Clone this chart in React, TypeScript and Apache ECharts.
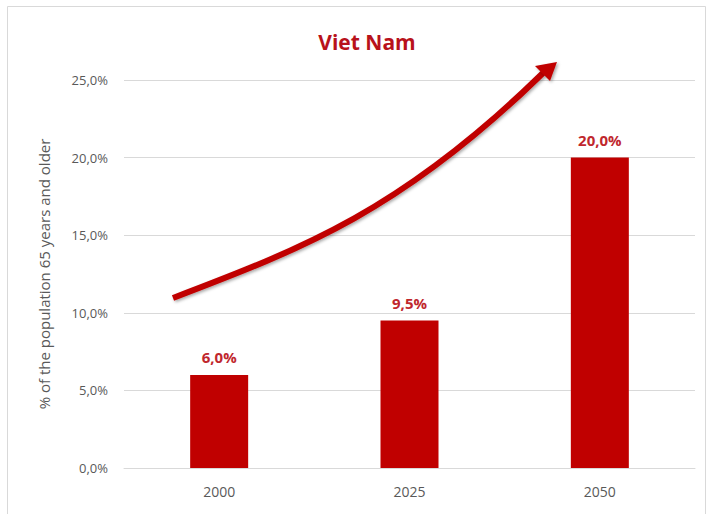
import React, { useEffect, useRef } from "react";
import * as echarts from "echarts";

const categories = ["2000", "2025", "2050"];
const shareOlder = [6.0, 9.5, 20.0];
const yTicks = { min: 0, max: 25, interval: 5 };
const titleText = "Viet Nam";
const yAxisName = "% of the population 65 years and older";

const fmt = (v: number) => v.toFixed(1).replace(".", ",") + "%";

export default function App() {
  const ref = useRef<HTMLDivElement>(null);
  useEffect(() => {
    document.body.style.margin = "0";
    const chart = echarts.init(ref.current!, null, { renderer: "svg" });
    const font = "'Open Sans', 'Noto Sans', sans-serif";
    chart.setOption({
      animation: false,
      backgroundColor: "#ffffff",
      title: {
        text: titleText,
        left: 362,
        textAlign: "center",
        top: 26,
        textStyle: { color: "#b8121b", fontSize: 21, fontWeight: "bold", fontFamily: font },
      },
      grid: { left: 124, right: 13, top: 80, bottom: 46 },
      xAxis: {
        type: "category",
        data: categories,
        axisTick: { show: false },
        axisLine: { lineStyle: { color: "#d9d9d9", width: 1 } },
        axisLabel: { color: "#595959", fontSize: 14, margin: 16, fontFamily: font },
      },
      yAxis: {
        type: "value",
        min: yTicks.min,
        max: yTicks.max,
        interval: yTicks.interval,
        name: yAxisName,
        nameLocation: "middle",
        nameGap: 73,
        nameTextStyle: { color: "#595959", fontSize: 15, fontFamily: font },
        axisLabel: { color: "#595959", fontSize: 13, margin: 16, fontFamily: font, formatter: (v: number) => fmt(v) },
        splitLine: { lineStyle: { color: "#d9d9d9", width: 1 } },
        axisLine: { show: false },
        axisTick: { show: false },
      },
      series: [
        {
          type: "bar",
          data: shareOlder,
          barWidth: 58,
          itemStyle: { color: "#c00000" },
          label: {
            show: true,
            position: "top",
            distance: 10,
            color: "#c0272d",
            fontSize: 15,
            fontWeight: "bold",
            fontFamily: font,
            formatter: (p: any) => fmt(p.value),
          },
        },
      ],
      graphic: [
        {
          type: "rect",
          shape: { x: 7.5, y: 6.5, width: 698, height: 520 },
          style: { fill: "none", stroke: "#d9d9d9", lineWidth: 1 },
          silent: true,
        },
        {
          type: "bezierCurve",
          shape: { x1: 173, y1: 298, cpx1: 303, cpy1: 248.6, cpx2: 403, cpy2: 210, x2: 543, y2: 73 },
          style: {
            stroke: "#c00000",
            lineWidth: 6,
            fill: "none",
            shadowBlur: 3,
            shadowColor: "rgba(0,0,0,0.35)",
            shadowOffsetX: 1.5,
            shadowOffsetY: 1.5,
          },
          z: 10,
        },
        {
          type: "polygon",
          shape: { points: [[557, 62], [535, 66], [550, 81]] },
          style: {
            fill: "#c00000",
            shadowBlur: 3,
            shadowColor: "rgba(0,0,0,0.35)",
            shadowOffsetX: 1.5,
            shadowOffsetY: 1.5,
          },
          z: 10,
        },
      ],
    });
    return () => chart.dispose();
  }, []);
  return <div ref={ref} style={{ width: 708, height: 514 }} />;
}
